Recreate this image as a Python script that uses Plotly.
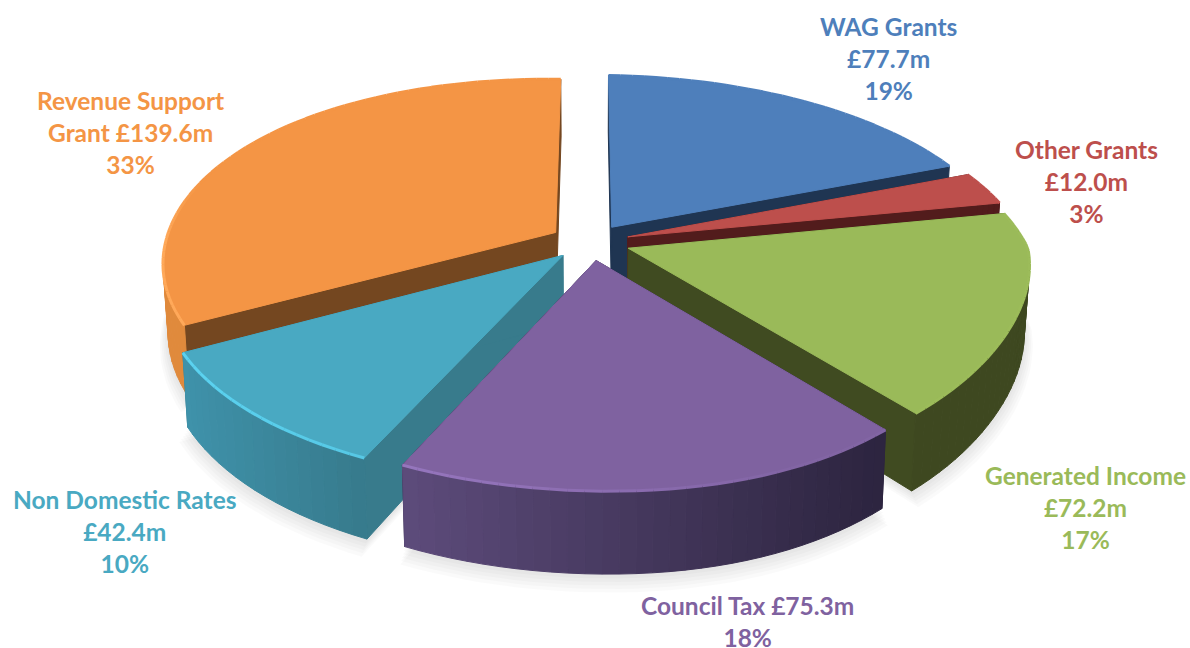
import math
import plotly.graph_objects as go

categories = ["WAG Grants", "Other Grants", "Generated Income", "Council Tax", "Non Domestic Rates", "Revenue Support Grant"]
values_m = [77.7, 12.0, 72.2, 75.3, 42.4, 139.6]
percents = [19, 3, 17, 18, 10, 33]
label_lines = [
    ["WAG Grants", "£77.7m"],
    ["Other Grants", "£12.0m"],
    ["Generated Income", "£72.2m"],
    ["Council Tax £75.3m"],
    ["Non Domestic Rates", "£42.4m"],
    ["Revenue Support", "Grant £139.6m"],
]
top_colors = ["#4E7FBB", "#BD4F4C", "#9ABA59", "#7F62A0", "#49A9C2", "#F49545"]
wall_left = ["#1F3552", "#521C1C", "#404B21", "#5E4C7C", "#3F93AB", "#E08A3C"]
wall_right = ["#1F3552", "#521C1C", "#3E4820", "#2D2540", "#377A8C", "#E08A3C"]
radial_colors = ["#1F3552", "#521C1C", "#404B21", "#2D2540", "#387B8C", "#744720"]
bevel_colors = ["#5A8DCB", "#C95C58", "#A9CC60", "#A07FCB", "#5BD2F0", "#FFA95A"]
label_pos = [(888, 58.5), (1086, 181.5), (1085, 507.5), (747, 621), (124, 531.5), (130, 132.5)]
draw_order = [0, 1, 5, 2, 4, 3]

CX, CY, RX, RY, K, H, EXPL = 590, 242, 400, 183, 0.175, 67, 0.10
SKEW, LEFT_TRIM, ROLL = 0.11, 0.022, 0.014


def proj(x, y, z=0.0):
    s = 1 / (1 + K * y)
    if x > 0 and y < 0:
        warp = 1 - SKEW * x * -y
    elif x < 0:
        warp = 1 - LEFT_TRIM * x * x
    else:
        warp = 1
    px = RX * x * warp * s * (1 - 0.012 * z)
    return CX + px, CY - RY * y * s + H * z * s + ROLL * px


def hex_rgb(c):
    return tuple(int(c[i:i + 2], 16) for i in (1, 3, 5))


def mix(a, b, t):
    ra, rb = hex_rgb(a), hex_rgb(b)
    return "#%02X%02X%02X" % tuple(round(p + (q - p) * t) for p, q in zip(ra, rb))


total = sum(values_m)
bounds = [0.0]
for v in values_m:
    bounds.append(bounds[-1] + 360 * v / total)

fig = go.Figure()


def poly(pts, color, opacity=1.0, lw=1.0):
    xs = [p[0] for p in pts] + [pts[0][0]]
    ys = [p[1] for p in pts] + [pts[0][1]]
    fig.add_trace(go.Scatter(x=xs, y=ys, mode="lines", fill="toself", fillcolor=color,
                             opacity=opacity, line=dict(color=color, width=lw),
                             hoverinfo="skip", showlegend=False))


def line(pts, color, width):
    fig.add_trace(go.Scatter(x=[p[0] for p in pts], y=[p[1] for p in pts], mode="lines",
                             line=dict(color=color, width=width),
                             hoverinfo="skip", showlegend=False))


def sector(i):
    a0, a1 = math.radians(bounds[i]), math.radians(bounds[i + 1])
    mid = (a0 + a1) / 2
    ox, oy = EXPL * math.sin(mid), EXPL * math.cos(mid)
    n = max(6, int(abs(a1 - a0) / math.radians(2)))
    arc = [(ox + math.sin(a0 + (a1 - a0) * j / n), oy + math.cos(a0 + (a1 - a0) * j / n)) for j in range(n + 1)]
    return (ox, oy), arc


# soft shadow below the pie
for layer in range(6):
    for i in range(len(values_m)):
        tip, arc = sector(i)
        pts = [proj(tip[0], tip[1], 1)] + [proj(x * (1 + 0.004 * layer), y * (1 + 0.004 * layer), 1) for x, y in arc]
        pts = [(x, y + 1 + 2.2 * layer) for x, y in pts]
        poly(pts, "#000000", opacity=0.02, lw=0)

for i in draw_order:
    tip, arc = sector(i)
    for end in (arc[0], arc[-1]):
        poly([proj(*tip), proj(*end), proj(*end, 1), proj(*tip, 1)], radial_colors[i])
    for a, b in zip(arc[:-1], arc[1:]):
        if a[1] > 0.35 and b[1] > 0.35:
            continue
        sx = proj(*a)[0]
        if i == 4:
            t = min(1, max(0, (sx - 180) / 190))
        else:
            t = min(1, max(0, (sx - 400) / 480))
        poly([proj(*a), proj(*b), proj(*b, 1), proj(*a, 1)], mix(wall_left[i], wall_right[i], t))
    poly([proj(*tip)] + [proj(*p) for p in arc], top_colors[i])
    # bevel along the rim, bright on the front-left where it faces the light
    for a, b in zip(arc[:-1], arc[1:]):
        sx = proj(*a)[0]
        t = min(1, max(0, (sx - 200) / 600))
        back = min(1, max(0, (a[1] + 0.05) / 0.35))
        c = mix(bevel_colors[i], top_colors[i], max(t * 0.9, back))
        line([proj(*a), proj(*b)], c, 3)

for i, (cat, pos) in enumerate(zip(categories, label_pos)):
    text = "<br>".join(label_lines[i] + [f"{percents[i]}%"])
    fig.add_annotation(x=pos[0], y=pos[1], text=text, showarrow=False, xanchor="center", yanchor="middle",
                       align="center", font=dict(family="Lato", size=24.5, color=top_colors[i], weight="bold"))

fig.update_xaxes(range=[0, 1190], visible=False, fixedrange=True)
fig.update_yaxes(range=[648, 0], visible=False, fixedrange=True)
fig.update_layout(width=1190, height=648, margin=dict(l=0, r=0, t=0, b=0), paper_bgcolor="white",
                  plot_bgcolor="white", showlegend=False)
fig.write_html("out.html", config={"displayModeBar": False},
               post_script="document.body.style.margin='0';document.documentElement.style.overflow='hidden';")
